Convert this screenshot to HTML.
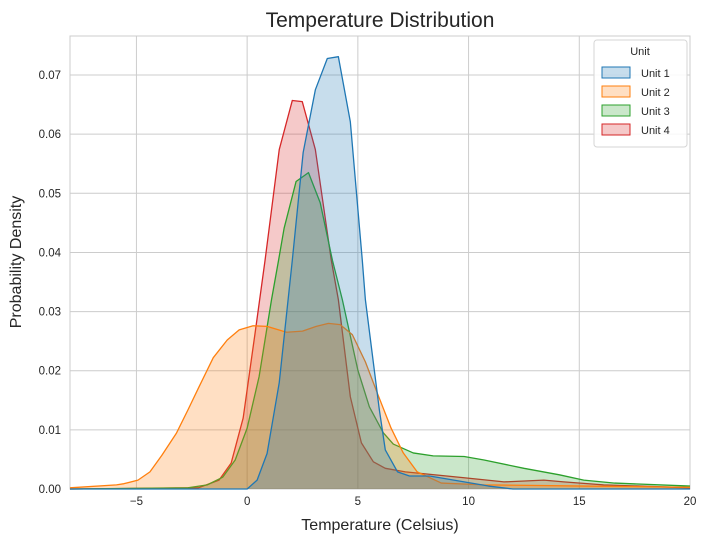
<!DOCTYPE html>
<html><head><meta charset="utf-8"><style>
body{margin:0;background:#fff;font-family:"Liberation Sans",sans-serif}
</style></head><body>
<svg id="chart" width="708" height="544" xmlns="http://www.w3.org/2000/svg"></svg>
<script>
const xTicks=[-5,0,5,10,15,20];
const yTicks=[0,0.01,0.02,0.03,0.04,0.05,0.06,0.07];
const seriesNames=["Unit 1","Unit 2","Unit 3","Unit 4"];
const unit1X=[-8,-0.5,0,0.45,0.9,1.45,2.04,2.53,3.08,3.62,4.12,4.66,5.2,5.34,5.97,6.24,6.79,7.33,8.24,9.8,10.9,12,20];
const unit1Y=[0,0,0,0.0015,0.006,0.018,0.0387,0.0569,0.0675,0.0728,0.0731,0.0621,0.0387,0.032,0.0134,0.0066,0.0029,0.0022,0.0022,0.0012,0.0005,0,0];
const unit2X=[-8,-5.9,-5.56,-4.93,-4.39,-3.85,-3.2,-2.67,-2.17,-1.53,-0.9,-0.36,0.27,0.9,1.78,2.5,3.12,3.67,4.2,4.75,5.34,5.88,6.5,7.05,7.68,8.77,10.7,15.2,20];
const unit2Y=[0.0002,0.0007,0.0009,0.0015,0.0029,0.0057,0.0094,0.0134,0.0173,0.0222,0.0252,0.0269,0.0276,0.0275,0.0265,0.0267,0.0275,0.028,0.0278,0.0261,0.0215,0.0162,0.0103,0.0061,0.0029,0.001,0.0007,0.0005,0.0003];
const unit3X=[-8,-2.67,-1.8,-1.1,-0.54,0,0.54,1.1,1.42,1.67,2.21,2.77,3.3,3.85,4.3,5.0,5.52,6.15,6.6,7.5,8.4,9.8,10.7,12.5,14.1,15.2,16.6,20];
const unit3Y=[0,0.0002,0.0007,0.002,0.0049,0.0103,0.019,0.032,0.0387,0.0441,0.052,0.0535,0.0484,0.0387,0.032,0.0201,0.0139,0.0095,0.0076,0.0061,0.0056,0.0055,0.0049,0.0035,0.0024,0.0015,0.001,0.0005];
const unit4X=[-8,-2.2,-1.27,-0.72,-0.18,0.36,0.81,1.45,2.04,2.49,3.08,3.8,4.12,4.66,5.16,5.7,6.24,7.15,9.8,11.6,13.4,14.3,16.1,20];
const unit4Y=[0,0.0002,0.0015,0.0044,0.012,0.0264,0.0387,0.0574,0.0657,0.0655,0.0574,0.0387,0.032,0.0156,0.0078,0.0046,0.0035,0.0029,0.0019,0.0012,0.0015,0.0012,0.0007,0.0002];
const colors=["#1f77b4","#ff7f0e","#2ca02c","#d62728"];
const L=70,R=690,T=36,B=489,xmin=-8,xmax=20,ymin=0,ymax=0.0766;
const sx=v=>L+(v-xmin)/(xmax-xmin)*(R-L);
const sy=v=>B-(v-ymin)/(ymax-ymin)*(B-T);
const svg=document.getElementById('chart');
const NS="http://www.w3.org/2000/svg";
function mk(tag,attrs,parent){const e=document.createElementNS(NS,tag);for(const k in attrs)e.setAttribute(k,attrs[k]);(parent||svg).appendChild(e);return e;}
xTicks.forEach(t=>{const l=mk('line',{x1:sx(t),x2:sx(t),y1:T,y2:B,stroke:'#cccccc','stroke-width':1});


const tx=mk('text',{x:sx(t),y:B+16,'font-size':11.5,'text-anchor':'middle',fill:'#262626'});tx.textContent=t<0?'\u2212'+(-t):t;

});
yTicks.forEach(t=>{const l=mk('line',{x1:L,x2:R,y1:sy(t),y2:sy(t),stroke:'#cccccc','stroke-width':1});


const tx=mk('text',{x:L-9,y:sy(t)+4,'font-size':11.5,'text-anchor':'end',fill:'#262626'});tx.textContent=t.toFixed(2);

});
const frame=mk('rect',{x:L,y:T,width:R-L,height:B-T,fill:'none',stroke:'#cccccc'});


const xs=[unit1X,unit2X,unit3X,unit4X],ys=[unit1Y,unit2Y,unit3Y,unit4Y];
[3,2,1,0].forEach(i=>{const X=xs[i];const pts=X.map((x,j)=>sx(x)+','+sy(ys[i][j])).join(' ');
const fill=mk('polygon',{points:sx(X[0])+','+sy(0)+' '+pts+' '+sx(X[X.length-1])+','+sy(0),fill:colors[i],'fill-opacity':0.25,stroke:'none'});


const line=mk('polyline',{points:pts,fill:'none',stroke:colors[i],'stroke-width':1.3,'stroke-linejoin':'round'});

});
const ttl=mk('text',{x:380,y:27,'font-size':21,'text-anchor':'middle',fill:'#262626'});ttl.textContent='Temperature Distribution';


const xl=mk('text',{x:380,y:530,'font-size':16,'text-anchor':'middle',fill:'#262626'});xl.textContent='Temperature (Celsius)';


const yl=mk('text',{x:0,y:0,'font-size':16,'text-anchor':'middle',fill:'#262626',transform:'translate(21,262) rotate(-90)'});yl.textContent='Probability Density';


const lg=mk('g',{});


mk('rect',{x:594,y:40,width:93,height:107,rx:3,fill:'#ffffff','fill-opacity':0.85,stroke:'#d6d6d6'},lg);
const lt=mk('text',{x:640,y:55,'font-size':11,'text-anchor':'middle',fill:'#262626'},lg);lt.textContent='Unit';


seriesNames.forEach((n,i)=>{const y=67+i*19;
const g=mk('g',{},lg);


mk('rect',{x:602,y:y,width:28,height:11,fill:colors[i],'fill-opacity':0.25,stroke:colors[i],'stroke-width':1},g);
const t=mk('text',{x:641,y:y+10,'font-size':11,fill:'#262626'},g);t.textContent=n;});
</script>
</body></html>
